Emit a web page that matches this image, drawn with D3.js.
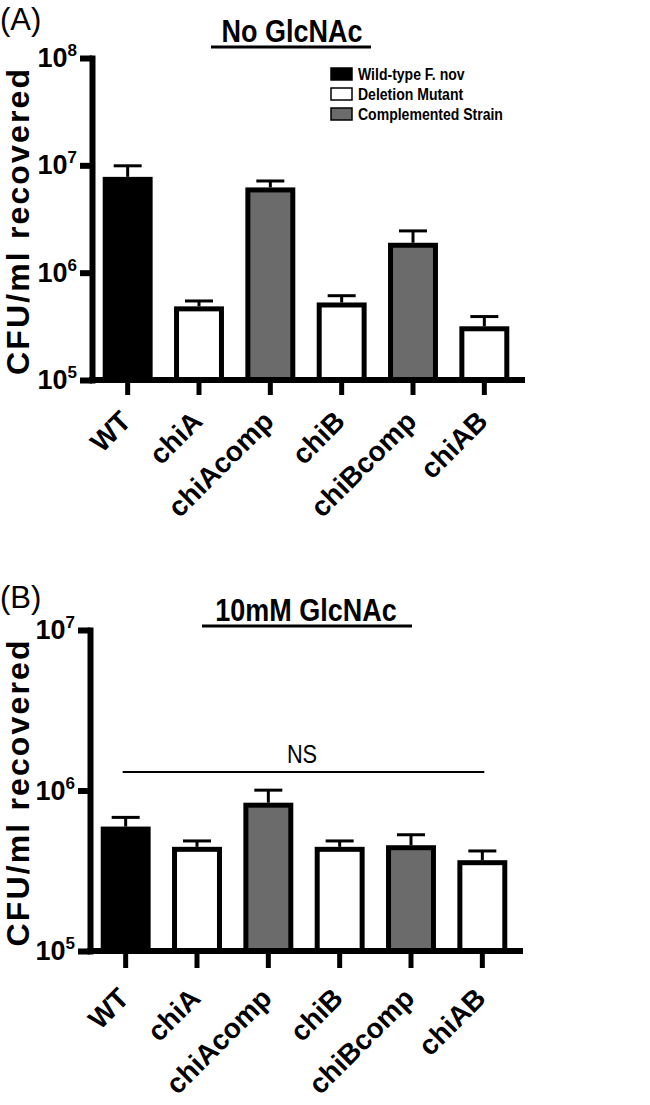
<!DOCTYPE html>
<html><head><meta charset="utf-8">
<script src="https://cdn.jsdelivr.net/npm/d3@7"></script>
<style>
html,body{margin:0;padding:0;background:#fff;}
svg{display:block;}
</style></head>
<body>
<svg id="chart" width="650" height="1105"></svg>
<script>
const categories = ["WT","chiA","chiAcomp","chiB","chiBcomp","chiAB"];
const strainType = ["wt","del","comp","del","comp","del"];
const legendLabels = ["Wild-type F. nov","Deletion Mutant","Complemented Strain"];
const legendTypes = ["wt","del","comp"];
const meansA = [7.4e6, 4.6e5, 5.9e6, 5.0e5, 1.8e6, 3.0e5];
const semA   = [2.5e6, 0.85e5, 1.25e6, 1.1e5, 0.65e6, 0.9e5];
const meansB = [5.75e5, 4.3e5, 8.1e5, 4.3e5, 4.4e5, 3.55e5];
const semB   = [1.05e5, 0.55e5, 1.95e5, 0.55e5, 0.9e5, 0.65e5];
const ticksA = [1e5,1e6,1e7,1e8];
const ticksB = [1e5,1e6,1e7];
const titleA = "No GlcNAc";
const titleB = "10mM GlcNAc";
const yLabel = "CFU/ml recovered";

const fillFor = {wt:"#000000", del:"#ffffff", comp:"#6b6b6b"};
const SANS = "'Liberation Sans', Arial, Helvetica, sans-serif";

const svg = d3.select("#chart");

// condensed text (Arial Narrow look) via horizontal scaling
function narrowText(g, x, y, anchor, txt, size, weight, sx){
  return g.append("text").attr("transform",`translate(${x},${y}) scale(${sx},1)`)
    .attr("text-anchor",anchor).text(txt)
    .style("font-family",SANS).style("font-size",size+"px").style("font-weight",weight);
}

function panel(opt){
  const g = svg.append("g");
  const y = d3.scaleLog().domain(opt.domain).range([opt.y0, opt.y1]);
  const x = d3.scaleBand().domain(categories).range([opt.x0, opt.x1]).paddingInner(0.3).paddingOuter(0.15);

  // panel letter
  g.append("text").attr("x",0).attr("y",opt.letterY).text(opt.letter)
    .style("font-family",SANS).style("font-size","31px").style("font-weight","normal");

  // title + underline
  narrowText(g, opt.titleX, opt.titleY, "middle", opt.title, 31, "bold", 0.87);
  g.append("line").attr("x1",opt.ulX1).attr("x2",opt.ulX2).attr("y1",opt.ulY).attr("y2",opt.ulY)
    .attr("stroke","#000").attr("stroke-width",3);

  // y label
  const cy = (opt.y0 + opt.y1)/2 + 3;
  g.append("text").attr("transform",`translate(29,${cy}) rotate(-90)`).attr("text-anchor","middle")
    .attr("textLength",306).attr("lengthAdjust","spacing")
    .text(yLabel).style("font-family",SANS).style("font-size","32px").style("font-weight","bold");

  // bars
  const base = opt.domain[0];
  g.selectAll("rect.bar").data(categories).enter().append("rect")
    .attr("x",d=>x(d)+2.5).attr("width",x.bandwidth()-5)
    .attr("y",(d,i)=>y(opt.means[i]))
    .attr("height",(d,i)=>y(base)-y(opt.means[i]))
    .attr("fill",(d,i)=>fillFor[strainType[i]])
    .attr("stroke","#000").attr("stroke-width",5);

  // error bars
  const eb = g.selectAll("g.eb").data(categories).enter().append("g");
  eb.append("line").attr("x1",d=>x(d)+x.bandwidth()/2).attr("x2",d=>x(d)+x.bandwidth()/2)
    .attr("y1",(d,i)=>y(opt.means[i])-2.5).attr("y2",(d,i)=>y(opt.means[i]+opt.sem[i]))
    .attr("stroke","#000").attr("stroke-width",3);
  eb.append("line").attr("x1",d=>x(d)+x.bandwidth()/2-14).attr("x2",d=>x(d)+x.bandwidth()/2+14)
    .attr("y1",(d,i)=>y(opt.means[i]+opt.sem[i])).attr("y2",(d,i)=>y(opt.means[i]+opt.sem[i]))
    .attr("stroke","#000").attr("stroke-width",3);

  // y axis
  const ya = g.append("g").attr("transform",`translate(${opt.x0},0)`)
    .call(d3.axisLeft(y).tickValues(opt.ticks).tickSize(12).tickSizeOuter(0).tickFormat(""));
  ya.select(".domain").attr("stroke-width",6).attr("stroke-linecap","square");
  ya.selectAll(".tick line").attr("stroke-width",6);
  opt.ticks.forEach(t=>{
    const tx = g.append("text").attr("x",opt.x0-15).attr("y",y(t)+9).attr("text-anchor","end")
      .style("font-family",SANS).style("font-weight","bold").style("font-size","27px");
    tx.append("tspan").text("10");
    tx.append("tspan").attr("dy",-11).style("font-size","17px").text(String(Math.round(Math.log10(t))));
  });

  // x axis
  const xa = g.append("g").attr("transform",`translate(0,${opt.y0})`)
    .call(d3.axisBottom(x).tickSize(opt.tickLen).tickSizeOuter(0).tickFormat(""));
  xa.select(".domain").attr("d",`M${opt.x0},0H${opt.x1+2}`).attr("stroke-width",6).attr("stroke-linecap","square");
  xa.selectAll(".tick line").attr("stroke-width",5);
  categories.forEach(c=>{
    const cx = x(c)+x.bandwidth()/2;
    g.append("text").attr("transform",`translate(${cx+5},${opt.y0+opt.labOff}) rotate(-45)`).attr("text-anchor","end")
      .text(c).style("font-family",SANS).style("font-weight","bold").style("font-size","28px");
  });
  return {x,y,g};
}

const A = panel({letter:"(A)", letterY:30, title:titleA, titleX:292, titleY:42, ulX1:211, ulX2:371, ulY:47,
  domain:[1e5,1e8], y0:380, y1:58, x0:92, x1:520, means:meansA, sem:semA, ticks:ticksA, tickLen:15, labOff:43});

// legend (panel A)
const lg = A.g.append("g");
legendLabels.forEach((l,i)=>{
  lg.append("rect").attr("x",331).attr("y",68+i*20).attr("width",21).attr("height",12)
    .attr("fill",fillFor[legendTypes[i]]).attr("stroke","#000").attr("stroke-width",1.5);
  narrowText(lg, 358, 80+i*20, "start", l, 17, "bold", 0.825);
});

const B = panel({letter:"(B)", letterY:608, title:titleB, titleX:306, titleY:621, ulX1:202, ulX2:412, ulY:626,
  domain:[1e5,1e7], y0:951, y1:630, x0:90, x1:518, means:meansB, sem:semB, ticks:ticksB, tickLen:17, labOff:49});

// NS annotation
B.g.append("line").attr("x1",B.x("WT")+B.x.bandwidth()/2-3).attr("x2",B.x("chiAB")+B.x.bandwidth()/2+2)
  .attr("y1",772).attr("y2",772).attr("stroke","#000").attr("stroke-width",2);
narrowText(B.g, 302, 763, "middle", "NS", 25, "normal", 0.87);
</script>
</body></html>
